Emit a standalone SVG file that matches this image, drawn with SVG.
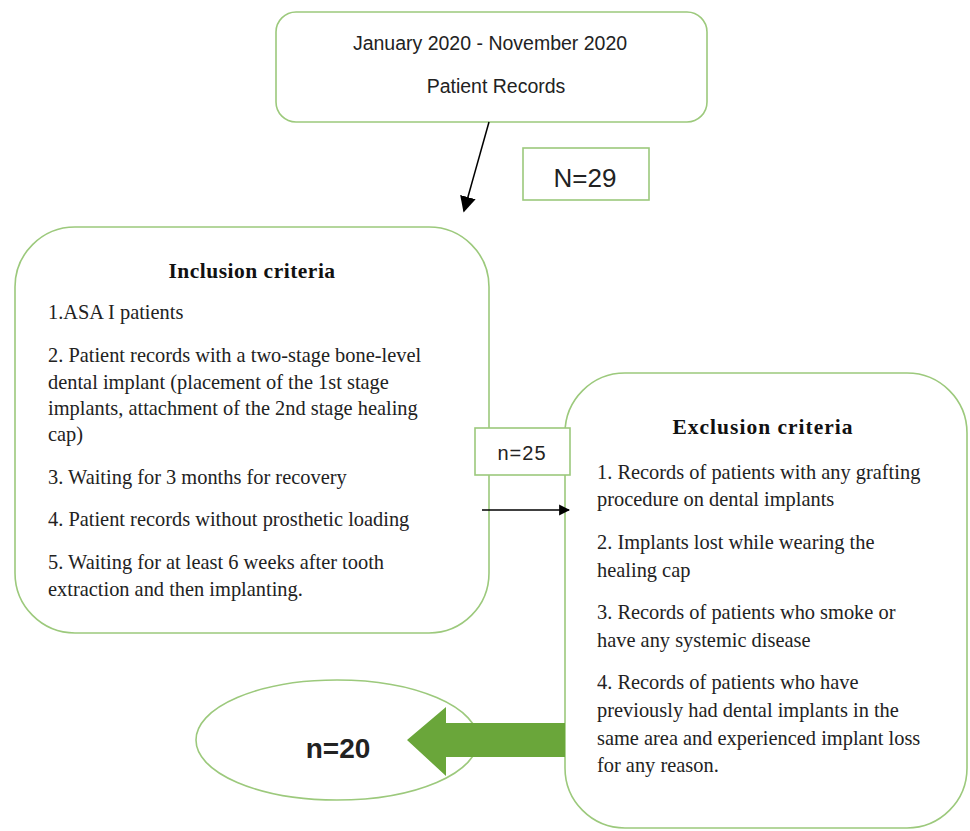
<svg xmlns="http://www.w3.org/2000/svg" width="970" height="831" viewBox="0 0 970 831">
<style>
.box{fill:#fff;stroke:#9cc97c;stroke-width:1.6}
.sans{font-family:"Liberation Sans",Arial,sans-serif;fill:#222}
.serif{font-family:"Liberation Serif","Times New Roman",serif;fill:#222;font-size:20.4px}
.title{font-family:"Liberation Serif","Times New Roman",serif;font-weight:bold;font-size:21.5px;fill:#111}
.conn{stroke:#000;stroke-width:1.5;fill:none}
</style>
<defs>
<marker id="ah" viewBox="0 0 10 10" refX="9" refY="5" markerWidth="11" markerHeight="12" markerUnits="userSpaceOnUse" orient="auto">
<path d="M0,0 L10,5 L0,10 z" fill="#000"/>
</marker>
<marker id="ah2" viewBox="0 0 10 10" refX="9" refY="5" markerWidth="16" markerHeight="16" markerUnits="userSpaceOnUse" orient="auto">
<path d="M0,0 L10,5 L0,10 z" fill="#000"/>
</marker>
</defs>
<rect width="970" height="831" fill="#fff"/>

<g id="records">
<rect class="box" x="276" y="12" width="431" height="110" rx="20"/>
<text class="sans" x="490" y="50" font-size="19.5" text-anchor="middle">January 2020 - November 2020</text>
<text class="sans" x="496" y="93" font-size="19.5" text-anchor="middle">Patient Records</text>
</g>

<g id="n29">
<rect class="box" x="523" y="148" width="126" height="52"/>
<text class="sans" x="585" y="187" font-size="26" text-anchor="middle">N=29</text>
</g>

<g id="inclusion">
<rect class="box" x="15" y="227" width="474" height="406" rx="60"/>
<text class="title" x="252" y="278" text-anchor="middle" letter-spacing="0.5">Inclusion criteria</text>
<text class="serif" x="48" y="319">1.ASA I patients</text>
<text class="serif" x="48" y="362">2. Patient records with a two-stage bone-level</text>
<text class="serif" x="48" y="389">dental implant (placement of the 1st stage</text>
<text class="serif" x="48" y="415">implants, attachment of the 2nd stage healing</text>
<text class="serif" x="48" y="441">cap)</text>
<text class="serif" x="48" y="484">3. Waiting for 3 months for recovery</text>
<text class="serif" x="48" y="526">4. Patient records without prosthetic loading</text>
<text class="serif" x="48" y="569">5. Waiting for at least 6 weeks after tooth</text>
<text class="serif" x="48" y="596">extraction and then implanting.</text>
</g>

<g id="exclusion">
<rect class="box" x="565" y="373" width="402" height="455" rx="60"/>
<text class="title" x="763" y="434" text-anchor="middle" letter-spacing="1">Exclusion criteria</text>
<text class="serif" x="597" y="479">1. Records of patients with any grafting</text>
<text class="serif" x="597" y="506">procedure on dental implants</text>
<text class="serif" x="597" y="549">2. Implants lost while wearing the</text>
<text class="serif" x="597" y="577">healing cap</text>
<text class="serif" x="597" y="619">3. Records of patients who smoke or</text>
<text class="serif" x="597" y="647">have any systemic disease</text>
<text class="serif" x="597" y="689">4. Records of patients who have</text>
<text class="serif" x="597" y="717">previously had dental implants in the</text>
<text class="serif" x="597" y="745">same area and experienced implant loss</text>
<text class="serif" x="597" y="772">for any reason.</text>
</g>

<g id="n25">
<rect class="box" x="475" y="428" width="95" height="47"/>
<text class="sans" x="522" y="460" font-size="20" text-anchor="middle" letter-spacing="1">n=25</text>
</g>

<g id="final">
<ellipse class="box" cx="337" cy="740" rx="141" ry="60"/>
<text class="sans" x="338" y="758" font-size="28" font-weight="bold" text-anchor="middle" fill="#111">n=20</text>
</g>

<g id="connectors">
<line class="conn" x1="489" y1="122" x2="464" y2="211" marker-end="url(#ah2)"/>
<line class="conn" x1="482" y1="510" x2="569" y2="510" marker-end="url(#ah)"/>
<path d="M565,723 L446,723 L446,707 L407,740 L446,776 L446,757 L565,757 z" fill="#6aa63a"/>
</g>
</svg>
